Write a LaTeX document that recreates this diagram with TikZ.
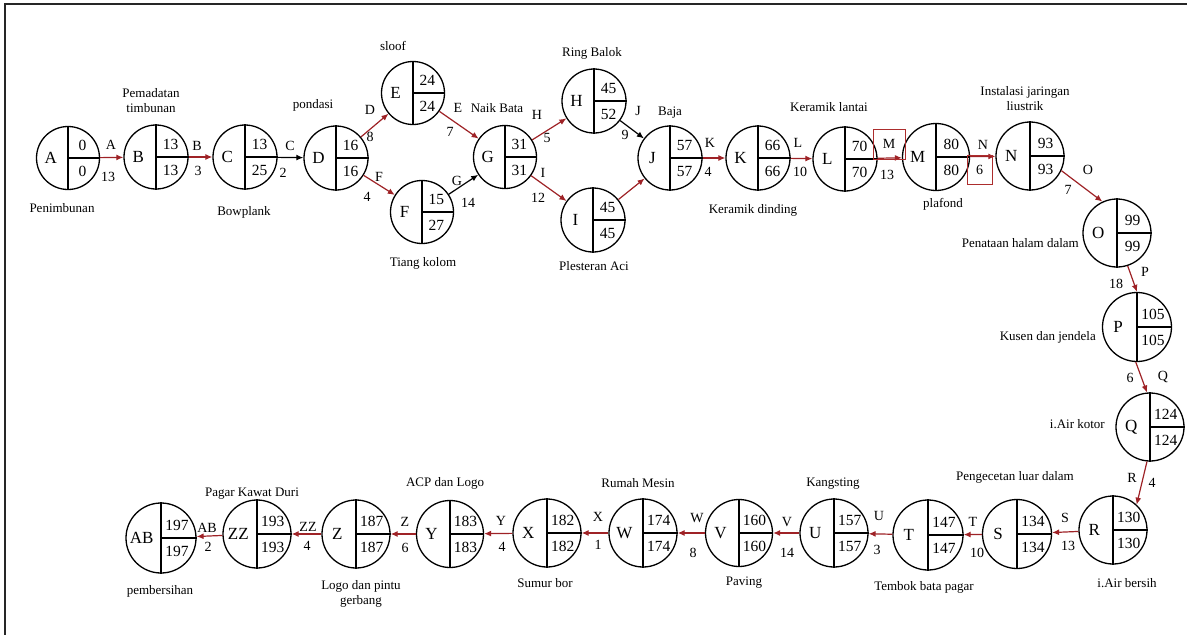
\documentclass[tikz,border=0pt]{standalone}
\usepackage{fontspec}
\setmainfont{Liberation Serif}
\usetikzlibrary{arrows.meta,calc}
\definecolor{critred}{RGB}{158,34,38}
\definecolor{boxred}{RGB}{172,45,45}
\tikzset{
  evc/.style={circle, draw, line width=1.3pt, inner sep=0pt},
  evline/.style={line width=1.3pt},
  lett/.style={font=\fontsize{17}{17}\selectfont, inner sep=0pt},
  numt/.style={font=\fontsize{15.5}{16}\selectfont, inner sep=0pt},
  elab/.style={font=\fontsize{14}{14}\selectfont, inner sep=0pt},
  desc/.style={font=\fontsize{13}{15}\selectfont, inner sep=0pt, align=center},
  redarr/.style={draw=critred, line width=1.2pt, -{Latex[length=7pt,width=6pt]}},
  blkarr/.style={draw=black, line width=1.2pt, -{Latex[length=7pt,width=6pt]}},
  redbox/.style={draw=boxred, line width=1pt, inner sep=0pt, font=\fontsize{14}{14}\selectfont}
}
\newcommand{\evnode}[7]{%
  \node[evc, minimum size=#4pt] (#1) at (#2,#3) {};
  \draw[evline] (#1.north) -- (#1.south);
  \draw[evline] (#1.center) -- (#1.east);
  \node[lett] (#1l) at ($(#1.center)+(-0.55*#4/2,0)$) {#5};
  \node[numt] (#1t) at ($(#1.center)+(0.46*#4/2,-13)$) {#6};
  \node[numt] (#1b) at ($(#1.center)+(0.46*#4/2,13)$) {#7};
}
\begin{document}
\begin{tikzpicture}[x=1pt,y=-1pt]
\useasboundingbox (0,0) rectangle (1187,635);
\draw[line width=2.2pt, black!85] (5,640) -- (5,4) -- (1192,4);

% events
\evnode{A}{68}{158}{63}{A}{0}{0}
\evnode{B}{156}{157}{64}{B}{13}{13}
\evnode{C}{245}{157}{64}{C}{13}{25}
\evnode{D}{336}{158}{64}{D}{16}{16}
\evnode{E}{413}{93}{63}{E}{24}{24}
\evnode{F}{422}{212}{63}{F}{15}{27}
\evnode{G}{505}{157}{63}{G}{31}{31}
\evnode{H}{594}{101}{64}{H}{45}{52}
\evnode{I}{593}{220}{64}{I}{45}{45}
\evnode{J}{670}{158}{64}{J}{57}{57}
\evnode{K}{758}{158}{64}{K}{66}{66}
\evnode{L}{845}{159}{64}{L}{70}{70}
\evnode{M}{936}{157}{67}{M}{80}{80}
\evnode{N}{1030}{156}{68}{N}{93}{93}
\evnode{O}{1117}{233}{68}{O}{99}{99}
\evnode{P}{1137}{327}{69}{P}{105}{105}
\evnode{Q}{1150}{427}{68}{Q}{124}{124}
\evnode{R}{1113}{530}{68}{R}{130}{130}
\evnode{S}{1017}{534}{69}{S}{134}{134}
\evnode{T}{928}{535}{70}{T}{147}{147}
\evnode{U}{834}{533}{68}{U}{157}{157}
\evnode{V}{739}{533}{67}{V}{160}{160}
\evnode{W}{643}{533}{68}{W}{174}{174}
\evnode{X}{547}{533}{68}{X}{182}{182}
\evnode{Y}{450}{534}{67}{Y}{183}{183}
\evnode{Z}{356}{534}{68}{Z}{187}{187}
\evnode{ZZ}{257}{534}{68}{ZZ}{193}{193}
\evnode{AB}{161}{538}{70}{AB}{197}{197}

% activities
\draw[redarr] (A) -- (B);
\draw[redarr] (B) -- (C);
\draw[blkarr] (C) -- (D);
\draw[redarr] (D) -- (E);
\draw[redarr] (D) -- (F);
\draw[redarr] (E) -- (G);
\draw[blkarr] (F) -- (G);
\draw[redarr] (G) -- (H);
\draw[redarr] (G) -- (I);
\draw[blkarr] (H) -- (J);
\draw[redarr] (I) -- (J);
\draw[redarr] (J) -- (K);
\draw[redarr] (K) -- (L);
\draw[redarr] (L) -- (M);
\draw[redarr] (M) -- (N);
\draw[redarr] (N.-25) -- (O.115);
\draw[redarr] (O.-72) -- (P.north);
\draw[redarr] (P.-92) -- (Q.95);
\draw[redarr] (Q.-95) -- (R.47);
\draw[redarr] (R) -- (S);
\draw[redarr] (S) -- (T);
\draw[redarr] (T) -- (U);
\draw[redarr] (U) -- (V);
\draw[redarr] (V) -- (W);
\draw[redarr] (W) -- (X);
\draw[redarr] (X) -- (Y);
\draw[redarr] (Y) -- (Z);
\draw[redarr] (Z) -- (ZZ);
\draw[redarr] (ZZ) -- (AB);

% red boxes
\node[redbox, minimum width=32pt, minimum height=30pt] (Mbox) at (889,144) {M};
\node[redbox, minimum width=25pt, minimum height=29pt] (Nbox) at (979.5,169.5) {6};

% activity labels
\node[elab] (eA) at (111,145) {A};
\node[elab] (dA) at (108,177) {13};
\node[elab] (eB) at (197,146) {B};
\node[elab] (dB) at (198,171) {3};
\node[elab] (eC) at (290,146) {C};
\node[elab] (dC) at (283,173) {2};
\node[elab] (eD) at (370,110) {D};
\node[elab] (dD) at (370,137) {8};
\node[elab] (eF) at (379,177) {F};
\node[elab] (dF) at (367,197) {4};
\node[elab] (eE) at (458,108) {E};
\node[elab] (dE) at (450,132) {7};
\node[elab] (eG) at (457,181) {G};
\node[elab] (dG) at (468,203) {14};
\node[elab] (eH) at (537,115) {H};
\node[elab] (dH) at (547,138) {5};
\node[elab] (eI) at (543,173) {I};
\node[elab] (dI) at (538,198) {12};
\node[elab] (eJ) at (638,111) {J};
\node[elab] (dJ) at (625,135) {9};
\node[elab] (eK) at (710,143) {K};
\node[elab] (dK) at (708,172) {4};
\node[elab] (eL) at (798,143) {L};
\node[elab] (dL) at (800,172) {10};
\node[elab] (dM) at (887,175) {13};
\node[elab] (eN) at (983,145) {N};
\node[elab] (eO) at (1088,170) {O};
\node[elab] (dO) at (1068,190) {7};
\node[elab] (eP) at (1145,272) {P};
\node[elab] (dP) at (1116,284) {18};
\node[elab] (eQ) at (1163,377) {Q};
\node[elab] (dQ) at (1130,378) {6};
\node[elab] (eR) at (1132,478) {R};
\node[elab] (dR) at (1152,483) {4};
\node[elab] (eS) at (1065,518) {S};
\node[elab] (dS) at (1068,546) {13};
\node[elab] (eT) at (973,522) {T};
\node[elab] (dT) at (977,553) {10};
\node[elab] (eU) at (879,516) {U};
\node[elab] (dU) at (877,550) {3};
\node[elab] (eV) at (787,522) {V};
\node[elab] (dV) at (787,553) {14};
\node[elab] (eW) at (697,518) {W};
\node[elab] (dW) at (693,553) {8};
\node[elab] (eX) at (598,517) {X};
\node[elab] (dX) at (598,545) {1};
\node[elab] (eY) at (501,521) {Y};
\node[elab] (dY) at (502,547) {4};
\node[elab] (eZ) at (405,522) {Z};
\node[elab] (dZ) at (405,548) {6};
\node[elab] (eZZ) at (308,527) {ZZ};
\node[elab] (dZZ) at (307,546) {4};
\node[elab] (eAB) at (207,528) {AB};
\node[elab] (dAB) at (208,547) {2};

% descriptions
\node[desc] (tA) at (62,208) {Penimbunan};
\node[desc] (tB) at (151,101) {Pemadatan\\timbunan};
\node[desc] (tC) at (244,212) {Bowplank};
\node[desc] (tD) at (313,105) {pondasi};
\node[desc] (tE) at (393,46) {sloof};
\node[desc] (tG) at (497,108) {Naik Bata};
\node[desc] (tF) at (423,263) {Tiang kolom};
\node[desc] (tH) at (592,53) {Ring Balok};
\node[desc] (tI) at (594,266) {Plesteran Aci};
\node[desc] (tJ) at (670,113) {Baja};
\node[desc] (tL) at (829,107) {Keramik lantai};
\node[desc] (tK) at (753,210) {Keramik dinding};
\node[desc] (tN) at (1025,99) {Instalasi jaringan\\liustrik};
\node[desc] (tM) at (943,204) {plafond};
\node[desc, anchor=east] (tO) at (1079,243) {Penataan halam dalam};
\node[desc, anchor=east] (tP) at (1096,337) {Kusen dan jendela};
\node[desc, anchor=east] (tQ) at (1105,424) {i.Air kotor};
\node[desc] (tS) at (1015,477) {Pengecetan luar dalam};
\node[desc] (tR) at (1127,583) {i.Air bersih};
\node[desc] (tT) at (924,587) {Tembok bata pagar};
\node[desc] (tU) at (833,484) {Kangsting};
\node[desc] (tV) at (744,583) {Paving};
\node[desc] (tW) at (638,483) {Rumah Mesin};
\node[desc] (tX) at (545,583) {Sumur bor};
\node[desc] (tY) at (445,483) {ACP dan Logo};
\node[desc] (tZ) at (361,594) {Logo dan pintu\\gerbang};
\node[desc] (tZZ) at (252,494) {Pagar Kawat Duri};
\node[desc] (tAB) at (160,591) {pembersihan};
\end{tikzpicture}
\end{document}
